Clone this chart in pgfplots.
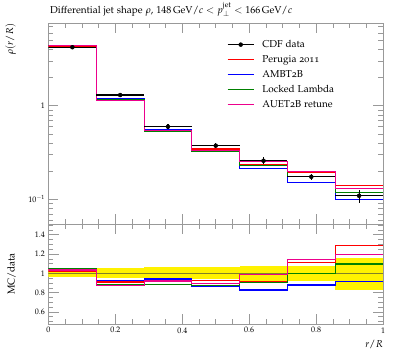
\documentclass[border=0pt]{standalone}
\usepackage[T1]{fontenc}
\usepackage[osf]{mathpazo}
\usepackage{pgfplots}
\pgfplotsset{compat=1.18}
\definecolor{lgreen}{RGB}{0,128,0}
\definecolor{lblue}{RGB}{0,0,255}
\definecolor{olive1}{RGB}{128,128,40}
\definecolor{framegray}{gray}{0.6}
\begin{document}
\begin{tikzpicture}
\useasboundingbox (-48.5pt,-134pt) rectangle (348.5pt,224pt);
\pgfplotsset{
 common/.style={scale only axis, width=334.5pt, xmin=0, xmax=1,
   axis line style={framegray}, every tick/.style={framegray, line width=0.5pt},
   tick align=inside, major tick length=10pt, minor tick length=5pt,
   xtick={0,0.2,0.4,0.6,0.8,1}, minor x tick num=3,
   tick label style={font=\footnotesize},
   clip=true,
 }
}
\begin{axis}[common, name=main, at={(0,0)}, anchor=south west, height=200.7pt,
  ymode=log, ymin=0.0545, ymax=7.59,
  ytick={0.1,1}, yticklabels={$10^{-1}$,$1$},
  minor ytick={0.06,0.07,0.08,0.09,0.2,0.3,0.4,0.5,0.6,0.7,0.8,0.9,2,3,4,5,6,7},
  xticklabels={},
  legend style={at={(rel axis cs:0.5336,0.917)}, anchor=north west, draw=none, fill=none,
    inner sep=0pt, row sep=6pt, column sep=8pt,
    nodes={inner sep=0pt, text height=7pt, text depth=2pt}},
  legend cell align=left,
]
\addlegendimage{legend image code/.code={\draw[black, line width=1.1pt] (0pt,0pt) -- (26pt,0pt); \fill[black] (13pt,0pt) circle (2pt);}}
\addlegendentry{CDF data}
\addlegendimage{legend image code/.code={\draw[red, line width=1.1pt] (0pt,0pt) -- (26pt,0pt);}}
\addlegendentry{Perugia 2011}
\addlegendimage{legend image code/.code={\draw[lblue, line width=1.1pt] (0pt,0pt) -- (26pt,0pt);}}
\addlegendentry{AMBT2B}
\addlegendimage{legend image code/.code={\draw[lgreen, line width=1.1pt] (0pt,0pt) -- (26pt,0pt);}}
\addlegendentry{Locked Lambda}
\addlegendimage{legend image code/.code={\draw[magenta, line width=1.1pt] (0pt,0pt) -- (26pt,0pt);}}
\addlegendentry{AUET2B retune}
\addplot[red, line width=1.1pt, const plot mark left, forget plot] coordinates {
 (0,4.294) (0.142857,1.183) (0.285714,0.555) (0.428571,0.345) (0.571429,0.2356) (0.714286,0.1931) (0.857143,0.1398) (1,0.1398)};
\addplot[lblue, line width=1.1pt, const plot mark left, forget plot] coordinates {
 (0,4.399) (0.142857,1.2025) (0.285714,0.5618) (0.428571,0.3235) (0.571429,0.2134) (0.714286,0.1529) (0.857143,0.0995) (1,0.0995)};
\addplot[lgreen, line width=1.1pt, const plot mark left, forget plot] coordinates {
 (0,4.399) (0.142857,1.1505) (0.285714,0.5289) (0.428571,0.3276) (0.571429,0.2322) (0.714286,0.174) (0.857143,0.1195) (1,0.1195)};
\addplot[magenta, line width=1.1pt, const plot mark left, forget plot] coordinates {
 (0,4.353) (0.142857,1.1414) (0.285714,0.5492) (0.428571,0.334) (0.571429,0.2554) (0.714286,0.198) (0.857143,0.1305) (1,0.1305)};
\addplot[black, forget plot, only marks, mark=*, mark size=2pt,
  error bars/.cd, x dir=both, x explicit, y dir=both, y explicit,
  error bar style={line width=1.1pt, black}, error mark=none] coordinates {
 (0.071429,4.21) +- (0.071429,0.19)
 (0.214286,1.30) +- (0.071429,0.065)
 (0.357143,0.597) +- (0.071429,0.035)
 (0.5,0.374) +- (0.071429,0.022)
 (0.642857,0.258) +- (0.071429,0.022)
 (0.785714,0.174) +- (0.071429,0.013)
 (0.928571,0.109) +- (0.071429,0.018)};
\end{axis}
\begin{axis}[common, name=ratio, at={(0,0)}, anchor=north west, height=100pt,
  ymin=0.475, ymax=1.51,
  ytick={0.6,0.8,1,1.2,1.4},
  minor ytick={0.5,0.55,0.65,0.7,0.75,0.85,0.9,0.95,1.05,1.1,1.15,1.25,1.3,1.35,1.45,1.5},
]
\addplot[fill=yellow, draw=none] coordinates {(0,0.960) (0.142857,0.960) (0.142857,1.055) (0,1.055)} -- cycle;
\addplot[fill=yellow, draw=none] coordinates {(0.142857,0.952) (0.285714,0.952) (0.285714,1.052) (0.142857,1.052)} -- cycle;
\addplot[fill=yellow, draw=none] coordinates {(0.285714,0.945) (0.428571,0.945) (0.428571,1.065) (0.285714,1.065)} -- cycle;
\addplot[fill=yellow, draw=none] coordinates {(0.428571,0.940) (0.571429,0.940) (0.571429,1.065) (0.428571,1.065)} -- cycle;
\addplot[fill=yellow, draw=none] coordinates {(0.571429,0.915) (0.714286,0.915) (0.714286,1.080) (0.571429,1.080)} -- cycle;
\addplot[fill=yellow, draw=none] coordinates {(0.714286,0.925) (0.857143,0.925) (0.857143,1.075) (0.714286,1.075)} -- cycle;
\addplot[fill=yellow, draw=none] coordinates {(0.857143,0.830) (1,0.830) (1,1.160) (0.857143,1.160)} -- cycle;
\addplot[olive1, line width=0.7pt] coordinates {(0,1) (1,1)};
\addplot[red, line width=1.1pt, const plot mark left] coordinates {
 (0,1.02) (0.142857,0.91) (0.285714,0.93) (0.428571,0.923) (0.571429,0.913) (0.714286,1.11) (0.857143,1.283) (1,1.283)};
\addplot[lblue, line width=1.1pt, const plot mark left] coordinates {
 (0,1.045) (0.142857,0.925) (0.285714,0.941) (0.428571,0.865) (0.571429,0.827) (0.714286,0.879) (0.857143,0.913) (1,0.913)};
\addplot[lgreen, line width=1.1pt, const plot mark left] coordinates {
 (0,1.045) (0.142857,0.885) (0.285714,0.886) (0.428571,0.876) (0.571429,0.90) (0.714286,1.0) (0.857143,1.096) (1,1.096)};
\addplot[magenta, line width=1.1pt, const plot mark left] coordinates {
 (0,1.034) (0.142857,0.878) (0.285714,0.92) (0.428571,0.893) (0.571429,0.99) (0.714286,1.138) (0.857143,1.197) (1,1.197)};
\end{axis}
\node[anchor=base west, inner sep=0pt] at ([xshift=1.5pt, yshift=10pt]main.north west)
  {Differential jet shape $\rho$, $148\,\mathrm{GeV}/c < p_\perp^{\mathrm{jet}} < 166\,\mathrm{GeV}/c$};
\node[rotate=90, anchor=east, inner sep=0pt] at ([xshift=-38pt]main.north west) {$\rho(r/R)$};
\node[rotate=90, inner sep=0pt] at ([xshift=-37pt]ratio.west) {MC/data};
\node[anchor=north east, inner sep=0pt] at ([yshift=-16pt]ratio.south east) {$r/R$};
\end{tikzpicture}
\end{document}
